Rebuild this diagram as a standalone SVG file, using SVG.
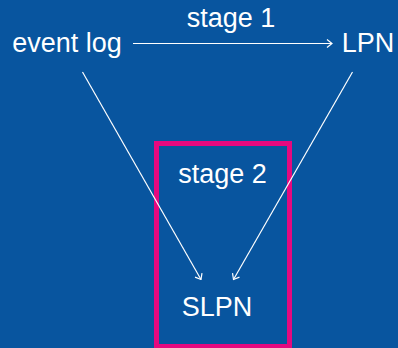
<svg xmlns="http://www.w3.org/2000/svg" width="398" height="348" viewBox="0 0 398 348">
  <defs>
    <marker id="arrow" viewBox="0 0 10 10" refX="9" refY="5" markerWidth="10" markerHeight="10" markerUnits="userSpaceOnUse" orient="auto">
      <path d="M4,1 L9,5 L4,9" fill="none" stroke="#ffffff" stroke-width="1.2"/>
    </marker>
    <style>
      .label { font-family: "Liberation Sans", Arial, Helvetica, sans-serif; font-size: 27px; fill: #ffffff; }
      .edge { stroke: #ffffff; stroke-width: 1.2; fill: none; marker-end: url(#arrow); }
    </style>
  </defs>
  <rect x="0" y="0" width="398" height="348" fill="#08559F"/>

  <!-- stage 2 frame -->
  <g id="stage2">
    <rect x="156.5" y="143.5" width="133" height="203" fill="none" stroke="#E5097F" stroke-width="5"/>
    <text class="label" x="222.5" y="183" text-anchor="middle">stage 2</text>
  </g>

  <g id="eventlog">
    <text class="label" x="67" y="52" text-anchor="middle">event log</text>
  </g>
  <g id="lpn">
    <text class="label" x="368" y="52" text-anchor="middle">LPN</text>
  </g>
  <g id="slpn">
    <text class="label" x="217" y="316" text-anchor="middle">SLPN</text>
  </g>

  <g id="connectors">
    <line class="edge" x1="133" y1="43.5" x2="332" y2="43.5"/>
    <text class="label" x="231" y="27" text-anchor="middle">stage 1</text>
    <line class="edge" x1="82.5" y1="72" x2="201" y2="279.5"/>
    <line class="edge" x1="352.5" y1="72" x2="233.5" y2="279.5"/>
  </g>
</svg>
